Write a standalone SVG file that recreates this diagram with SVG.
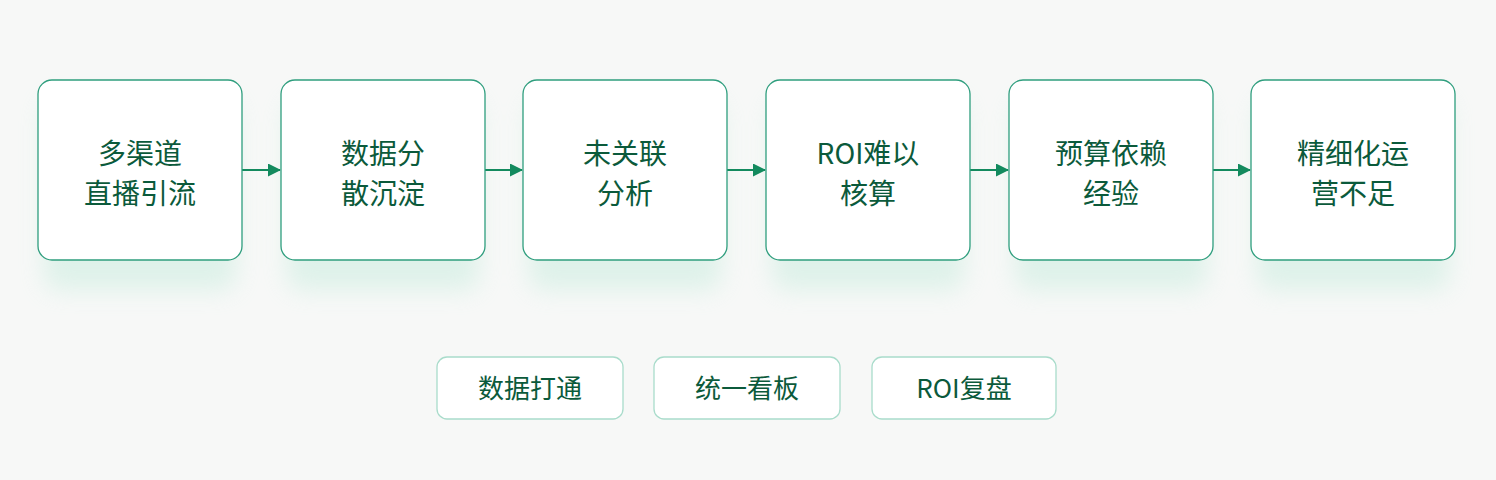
<svg xmlns="http://www.w3.org/2000/svg" width="1496" height="480" viewBox="0 0 1496 480">
<defs>
<style>
.box{fill:#ffffff;stroke:#2f9e7e;stroke-width:1.3}
.pill{fill:#ffffff;stroke:#a9dccb;stroke-width:1.3}
.t{font-family:"Noto Sans CJK SC","Noto Sans",sans-serif;font-size:28px;font-weight:400;fill:#0b5a3b;text-anchor:middle}
.p{font-family:"Noto Sans CJK SC","Noto Sans",sans-serif;font-size:26px;font-weight:400;fill:#0b5a3b;text-anchor:middle}
.c{stroke:#138a5e;stroke-width:2;fill:none}
</style>
<marker id="ah" markerWidth="13" markerHeight="13" refX="12" refY="6.5" orient="auto" markerUnits="userSpaceOnUse">
<path d="M0,0 L13,6.5 L0,13 Z" fill="#138a5e"/>
</marker>
<filter id="glow" x="-30%" y="-30%" width="160%" height="170%">
<feGaussianBlur stdDeviation="12"/>
</filter>
</defs>
<rect width="1496" height="480" fill="#f7f8f7"/>
<g opacity="0.4" filter="url(#glow)" fill="#b9e8d6">
<rect x="44" y="100" width="192" height="190" rx="14"/>
<rect x="287" y="100" width="192" height="190" rx="14"/>
<rect x="529" y="100" width="192" height="190" rx="14"/>
<rect x="772" y="100" width="192" height="190" rx="14"/>
<rect x="1015" y="100" width="192" height="190" rx="14"/>
<rect x="1257" y="100" width="192" height="190" rx="14"/>
</g>
<g id="connectors">
<line class="c" x1="242" y1="170" x2="280" y2="170" marker-end="url(#ah)"/>
<line class="c" x1="485" y1="170" x2="522" y2="170" marker-end="url(#ah)"/>
<line class="c" x1="727" y1="170" x2="765" y2="170" marker-end="url(#ah)"/>
<line class="c" x1="970" y1="170" x2="1008" y2="170" marker-end="url(#ah)"/>
<line class="c" x1="1213" y1="170" x2="1250" y2="170" marker-end="url(#ah)"/>
</g>
<g id="n1"><rect class="box" x="38" y="80" width="204" height="180" rx="14"/><text class="t" x="140" y="164">多渠道</text><text class="t" x="140" y="204">直播引流</text></g>
<g id="n2"><rect class="box" x="281" y="80" width="204" height="180" rx="14"/><text class="t" x="383" y="164">数据分</text><text class="t" x="383" y="204">散沉淀</text></g>
<g id="n3"><rect class="box" x="523" y="80" width="204" height="180" rx="14"/><text class="t" x="625" y="164">未关联</text><text class="t" x="625" y="204">分析</text></g>
<g id="n4"><rect class="box" x="766" y="80" width="204" height="180" rx="14"/><text class="t" x="868" y="164">ROI难以</text><text class="t" x="868" y="204">核算</text></g>
<g id="n5"><rect class="box" x="1009" y="80" width="204" height="180" rx="14"/><text class="t" x="1111" y="164">预算依赖</text><text class="t" x="1111" y="204">经验</text></g>
<g id="n6"><rect class="box" x="1251" y="80" width="204" height="180" rx="14"/><text class="t" x="1353" y="164">精细化运</text><text class="t" x="1353" y="204">营不足</text></g>
<g id="p1"><rect class="pill" x="437" y="357" width="186" height="62" rx="10"/><text class="p" x="530" y="398">数据打通</text></g>
<g id="p2"><rect class="pill" x="654" y="357" width="186" height="62" rx="10"/><text class="p" x="747" y="398">统一看板</text></g>
<g id="p3"><rect class="pill" x="872" y="357" width="184" height="62" rx="10"/><text class="p" x="964" y="398">ROI复盘</text></g>
</svg>
